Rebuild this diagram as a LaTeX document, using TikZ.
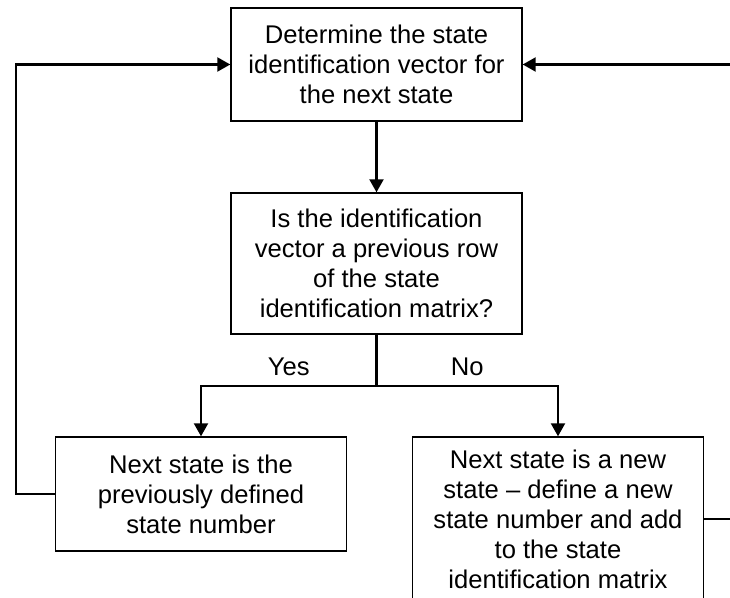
\documentclass[tikz,border=0pt]{standalone}
\usepackage{fontspec}
\setmainfont{Liberation Sans}
\usetikzlibrary{arrows.meta,positioning}

\begin{document}
\begin{tikzpicture}[x=0.5pt,y=-0.5pt,font=\fontsize{12.8}{15}\selectfont,
  box/.style={draw,line width=.7pt,minimum width=145.5pt,inner sep=0pt,align=center},
  flow/.style={line width=1.1pt,-{Triangle[length=6.5pt,width=7pt]}},
  link/.style={line width=1.1pt}]
\useasboundingbox (0,0) rectangle (730,598);
\clip (0,0) rectangle (730,598);

\node[box,minimum height=56.5pt] (ident) at (376.5,64.5) {Determine the state\\identification vector for\\the next state};
\node[box,minimum height=70.5pt] (query) at (376.5,263.5) {Is the identification\\vector a previous row\\of the state\\identification matrix?};
\node[box,minimum height=57pt] (known) at (201,494) {Next state is the\\previously defined\\state number};
\node[box,minimum height=82pt] (fresh) at (558,519) {Next state is a new\\state -- define a new\\state number and add\\to the state\\identification matrix};

\coordinate (split) at (376.5,386);
\coordinate (lft) at (16,300);
\coordinate (rgt) at (760,300);

\draw[flow] (ident) -- (query);
\draw[link] (query) -- (split);
\draw[flow] (split) -| node[pos=.25,above=1pt] {Yes} (known);
\draw[flow] (split) -| node[pos=.25,above=1pt] {No} (fresh);
\draw[flow] (known.west) -| (lft) |- (ident.west);
\draw[flow] (fresh.east) -| (rgt) |- (ident.east);
\end{tikzpicture}
\end{document}
